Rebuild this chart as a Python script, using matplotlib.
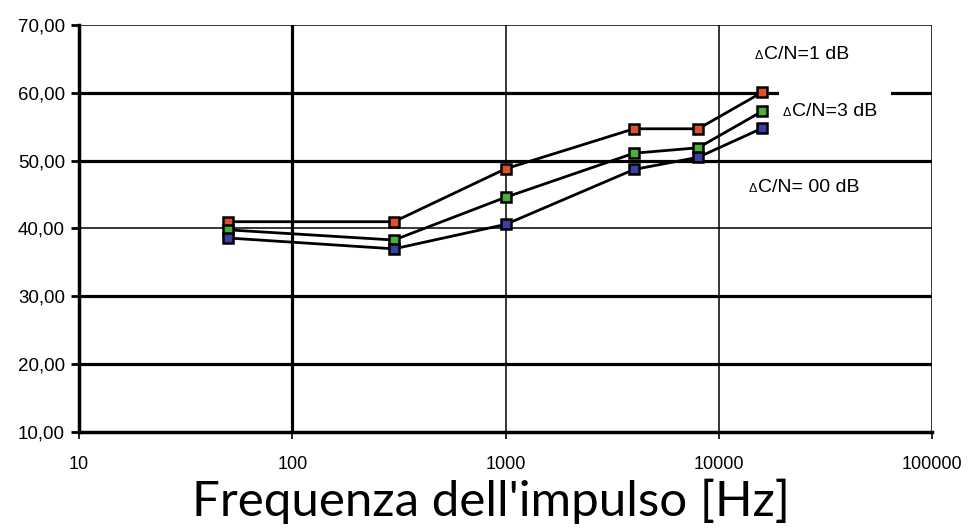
import numpy as np
import matplotlib.pyplot as plt
from matplotlib.ticker import FixedLocator, FuncFormatter

# frequenze dell'impulso [Hz]
freq = [50, 300, 1000, 4000, 8000, 16000]
# tre serie, valori
cn_1db = [41.0, 41.0, 48.8, 54.7, 54.7, 60.1]
cn_3db = [39.8, 38.3, 44.6, 51.1, 51.9, 57.3]
cn_00db = [38.6, 37.0, 40.6, 48.7, 50.5, 54.8]

labels = ['C/N=1 dB', 'C/N=3 dB', 'C/N= 00 dB']

y_ticks = [10, 20, 30, 40, 50, 60, 70]
x_ticks = [10, 100, 1000, 10000, 100000]
thick_y = [20, 30, 50, 60]
thin_y = [40, 70]
thick_x = [100]
thin_x = [1000, 10000, 100000]

plt.rcParams['font.family'] = ['Liberation Sans', 'DejaVu Sans']

fig = plt.figure(figsize=(9.69, 5.32), dpi=100)
ax = fig.add_axes([0.0815, 0.188, 0.8805, 0.765])

ax.set_xscale('log')
ax.set_xlim(10, 100000)
ax.set_ylim(10, 70)

# griglia: alcune linee spesse, altre sottili
for y in thick_y:
    ax.axhline(y, color='black', lw=2.3, zorder=1)
for y in thin_y:
    ax.axhline(y, color='black', lw=1.1, zorder=1)
for x in thick_x:
    ax.axvline(x, color='black', lw=2.3, zorder=1)
for x in thin_x:
    ax.axvline(x, color='black', lw=1.1, zorder=1)

series = [(cn_1db, '#e0512b'), (cn_3db, '#4cae3c'), (cn_00db, '#3c40a4')]
for vals, col in series:
    ax.plot(freq, vals, color='black', lw=2.0, marker='s', markersize=7.5,
            markerfacecolor=col, markeredgecolor='black', markeredgewidth=1.8, zorder=3)

for s in ['top', 'right']:
    ax.spines[s].set_visible(False)
ax.spines['left'].set_linewidth(2.5)
ax.spines['bottom'].set_linewidth(2.5)

ax.yaxis.set_major_locator(FixedLocator(y_ticks))
ax.yaxis.set_major_formatter(FuncFormatter(lambda v, p: f"{v:.2f}".replace('.', ',')))
ax.xaxis.set_major_locator(FixedLocator(x_ticks))
ax.xaxis.set_minor_locator(FixedLocator([]))
ax.xaxis.set_major_formatter(FuncFormatter(lambda v, p: f"{int(v)}"))
ax.tick_params(axis='y', length=6, width=2, labelsize=13.5, pad=4)
ax.tick_params(axis='x', length=5, width=1.2, labelsize=13, pad=12)

# etichette delle serie (delta piccolo davanti)
label_pos = [(0.803, 0.9165), (0.836, 0.776), (0.796, 0.590)]
for i, (txt, (lx, ly)) in enumerate(zip(labels, label_pos)):
    box = None
    if i == 1:
        # nel riferimento la casella di questa etichetta copre la linea dei 60
        box = dict(boxstyle='square,pad=0.7', facecolor='white', edgecolor='none')
    ax.text(lx, ly, txt, transform=ax.transAxes, fontsize=14, ha='left', va='baseline',
            bbox=box, zorder=2)
    ax.text(lx - 0.001, ly, 'Δ', transform=ax.transAxes, fontsize=9, ha='right', va='baseline',
            zorder=2.5)

fig.text(0.507, 0.058, "Frequenza dell'impulso [Hz]", fontsize=35.5, ha='center', va='center',
         family=['Lato', 'DejaVu Sans'])

fig.savefig('out.png', dpi=100)
